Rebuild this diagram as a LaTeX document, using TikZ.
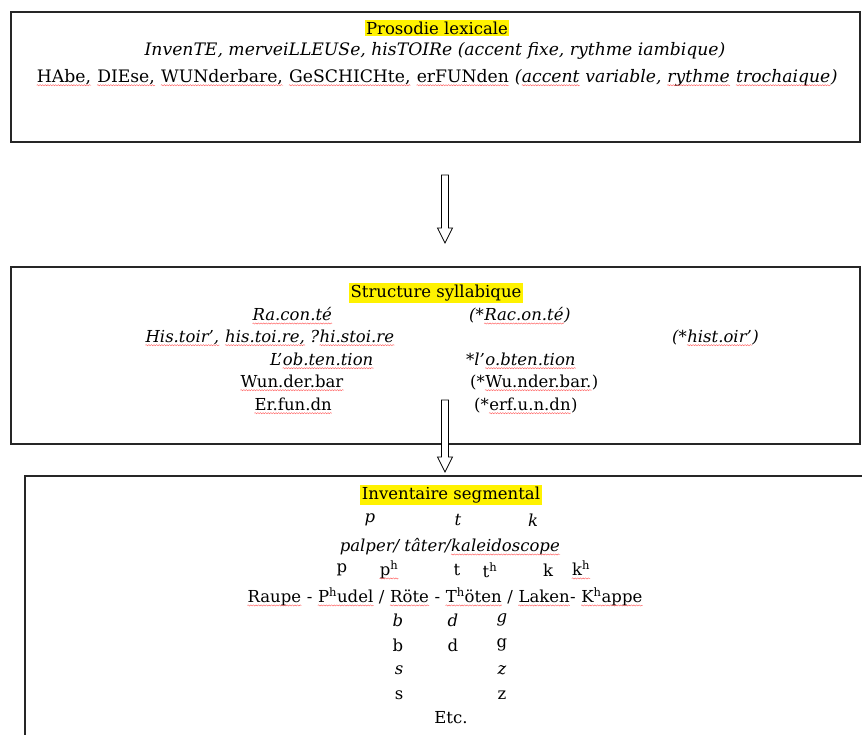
\documentclass[tikz,border=0pt]{standalone}
\usepackage{fontspec}
\setmainfont{DejaVu Serif}
\usetikzlibrary{decorations.pathmorphing}
% red spell-check squiggle under a word
\newcommand\spl[1]{\tikz[baseline=(sq.base)]{\node[inner sep=0pt] (sq) {#1};
  \draw[squiggle] ([yshift=-2.6pt]sq.base west) -- ([yshift=-2.6pt]sq.base east);}}
\newcommand\aspir[1]{#1\textsuperscript{h}}
% hollow downward arrow: x, top, tip
\newcommand\downflow[3]{%
  \draw[hollow] (#1-3.5,#2) -- (#1+3.5,#2) -- (#1+3.5,#3-15) -- (#1+7.5,#3-15)
    -- (#1,#3) -- (#1-7.5,#3-15) -- (#1-3.5,#3-15) -- cycle;}
\tikzset{
  frame/.style={draw=black!85, line width=1.5pt},
  hl/.style={fill=yellow, inner sep=1.5pt},
  txt/.style={inner sep=0pt, font=\fontsize{16.5}{19}\selectfont},
  big/.style={inner sep=0pt, font=\fontsize{17.2}{19}\selectfont},
  hollow/.style={draw, line width=0.7pt, fill=white},
  squiggle/.style={red!65, line width=0.4pt, decorate,
    decoration={snake, amplitude=0.6pt, segment length=2.6pt}},
}
\begin{document}
\begin{tikzpicture}[x=1pt, y=-1pt]
    \useasboundingbox (0,0) rectangle (862,734);
    \clip (0,0) rectangle (862,734);
    \fill[white] (0,0) rectangle (862,734);
    % boxes
    \draw[frame] (11,12) rectangle (860,142);
    \draw[frame] (11,267) rectangle (860,444);
    \draw[frame] (25,476) rectangle (870,760);
    % lexical prosody
    \node[txt, hl] (pros) at (437,28) {Prosodie lexicale};
    \node[big] (iamb) at (435,51) {\itshape InvenTE, merveiLLEUSe, hisTOIRe (accent fixe, rythme iambique)};
    \node[big] (troch) at (437,78) {\spl{HAbe,} \spl{DIEse,} \spl{WUNderbare,} \spl{GeSCHICHte,} \spl{erFUNden} {\itshape(\spl{accent} variable, \spl{rythme} \spl{trochaique})}};
    % syllable structure
    \node[txt, hl] (syll) at (436,293) {Structure syllabique};
    \node[txt, anchor=west] (racL) at (252,316) {\itshape\spl{Ra.con.té}};
    \node[txt, anchor=west] (racR) at (469,316) {\itshape(*\spl{Rac.on.té})};
    \node[txt, anchor=west] (hisL) at (145,338) {\itshape\spl{His.toir',} \spl{his.toi.re,} ?\spl{hi.stoi.re}};
    \node[txt, anchor=west] (hisR) at (672,338) {\itshape(*\spl{hist.oir'})};
    \node[txt, anchor=west] (obtL) at (270,361) {\itshape L'\spl{ob.ten.tion}};
    \node[txt, anchor=west] (obtR) at (466,361) {\itshape *l'\spl{o.bten.tion}};
    \node[txt, anchor=west] (wunL) at (240,383) {\spl{Wun.der.bar}};
    \node[txt, anchor=west] (wunR) at (470,383) {(*\spl{Wu.nder.bar.})};
    \node[txt, anchor=west] (erL) at (254,406) {\spl{Er.fun.dn}};
    \node[txt, anchor=west] (erR) at (474,406) {(*\spl{erf.u.n.dn})};
    % segmental inventory
    \node[txt, hl] (seg) at (451,495) {Inventaire segmental};
    \node[txt] (pI) at (370,520) {\itshape p};
    \node[txt] (tI) at (458,520) {\itshape t};
    \node[txt] (kI) at (533,520) {\itshape k};
    \node[txt] (palper) at (450,547) {\itshape palper/ tâter/\spl{kaleidoscope}};
    \node[txt] (p) at (342,570) {p};
    \node[txt] (ph) at (389,570) {\spl{\aspir{p}}};
    \node[txt] (t) at (457,570) {t};
    \node[txt] (th) at (490,570) {\aspir{t}};
    \node[txt] (k) at (548,570) {k};
    \node[txt] (kh) at (581,570) {\spl{\aspir{k}}};
    \node[txt, anchor=west] (raupe) at (247,597) {\spl{Raupe} - \spl{\aspir{P}udel} / \spl{Röte} - \spl{\aspir{T}öten} / \spl{Laken}- \spl{\aspir{K}appe}};
    \node[txt] (bI) at (398,620) {\itshape b};
    \node[txt] (dI) at (453,620) {\itshape d};
    \node[txt] (gI) at (502,620) {\itshape g};
    \node[txt] (b) at (398,645) {b};
    \node[txt] (d) at (453,645) {d};
    \node[txt] (g) at (502,645) {g};
    \node[txt] (sI) at (399,670) {\itshape s};
    \node[txt] (zI) at (502,670) {\itshape z};
    \node[txt] (s) at (399,695) {s};
    \node[txt] (z) at (502,695) {z};
    \node[txt] (etc) at (451,718) {Etc.};
    % arrows between levels
    \downflow{445}{175}{243}
    \downflow{445}{400}{472}
\end{tikzpicture}
\end{document}
